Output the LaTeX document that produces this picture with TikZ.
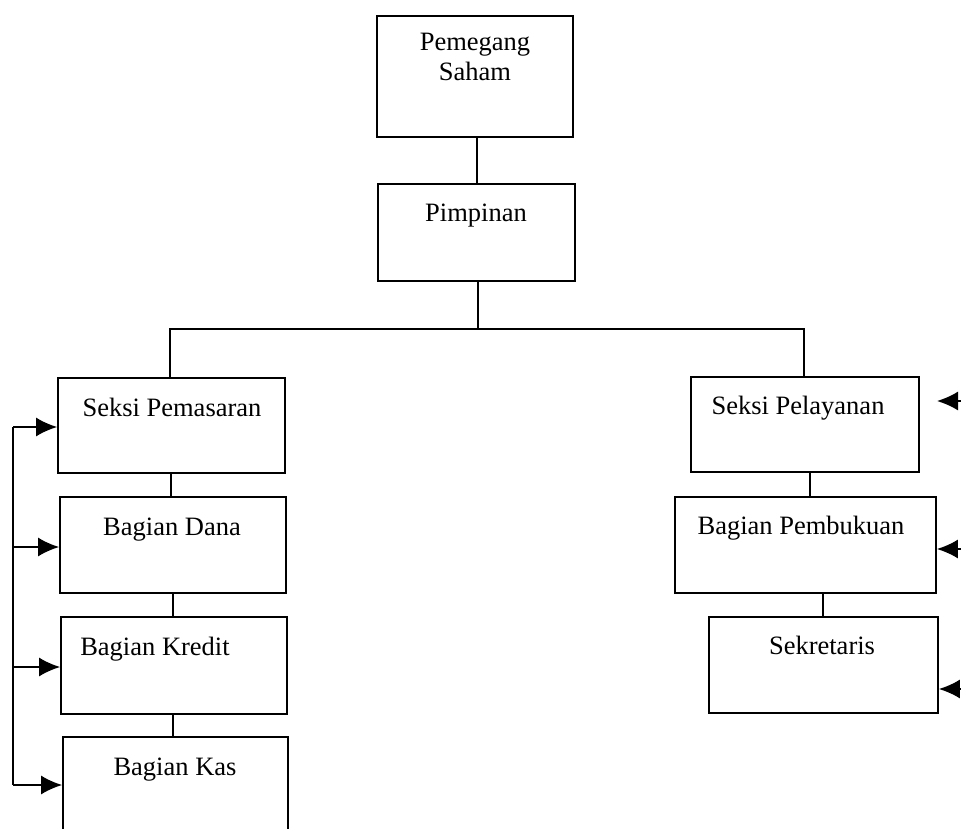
\documentclass[tikz,border=0pt]{standalone}
\usepackage{fontspec}
\setmainfont{Liberation Serif}
\usetikzlibrary{arrows.meta}
\begin{document}
\begin{tikzpicture}[x=1pt,y=-1pt,
  orgbox/.style={draw=black, line width=1.8pt, rectangle, inner sep=0pt},
  lbl/.style={font=\fontsize{26.5}{30}\selectfont, inner sep=0pt, anchor=base},
  link/.style={draw=black, line width=1.7pt},
  feed/.style={draw=black, line width=1.7pt, -{Latex[length=21pt,width=19pt]}}]
\clip (0,0) rectangle (961,829);

% boxes
\node[orgbox, minimum width=196pt, minimum height=121pt] (ps)  at (475,76.5)  {};
\node[orgbox, minimum width=197pt, minimum height=97pt]  (pim) at (476.5,232.5) {};
\node[orgbox, minimum width=227pt, minimum height=95pt]  (sm)  at (171.5,425.5) {};
\node[orgbox, minimum width=226pt, minimum height=96pt]  (bd)  at (173,545)   {};
\node[orgbox, minimum width=226pt, minimum height=97pt]  (bk)  at (174,665.5) {};
\node[orgbox, minimum width=225pt, minimum height=113pt] (kas) at (175.5,793.5) {};
\node[orgbox, minimum width=228pt, minimum height=95pt]  (sp)  at (805,424.5)  {};
\node[orgbox, minimum width=261pt, minimum height=96pt]  (pb)  at (805.5,545)  {};
\node[orgbox, minimum width=229pt, minimum height=96pt]  (sek) at (823.5,665)  {};

% labels
\node[lbl, anchor=north, align=center] (tps) at (475,33) {Pemegang\\Saham};
\node[lbl] (tpim) at (476,222) {Pimpinan};
\node[lbl] (tsm)  at (172,416) {Seksi Pemasaran};
\node[lbl] (tbd)  at (172,535) {Bagian Dana};
\node[lbl] (tbk)  at (155,655) {Bagian Kredit};
\node[lbl] (tkas) at (175,775) {Bagian Kas};
\node[lbl] (tsp)  at (798,414) {Seksi Pelayanan};
\node[lbl] (tpb)  at (801,534) {Bagian Pembukuan};
\node[lbl] (tsek) at (822,654) {Sekretaris};

% hierarchy lines
\coordinate (bus) at (478,329);
\draw[link] (ps.south -| 477,0) -- (pim.north -| 477,0);
\draw[link] (pim.south -| bus) -- (bus);
\draw[link] (sm.north -| 170,0) |- (bus) -| (sp.north -| 804,0);
\draw[link] (sm.south -| 171,0) -- (bd.north -| 171,0);
\draw[link] (bd.south -| 173,0) -- (bk.north -| 173,0);
\draw[link] (bk.south -| 173,0) -- (kas.north -| 173,0);
\draw[link] (sp.south -| 810,0) -- (pb.north -| 810,0);
\draw[link] (pb.south -| 823,0) -- (sek.north -| 823,0);

% left feedback rail
\coordinate (rtop) at (13,427);
\coordinate (rbot) at (13,785);
\draw[link] (rtop) -- (rbot);
\draw[feed] (rtop) -- (sm.west |- rtop);
\draw[feed] (13,547) -- (bd.west |- 0,547);
\draw[feed] (13,667) -- (bk.west |- 0,667);
\draw[feed] (rbot) -- (kas.west |- rbot);

% right incoming arrows
\coordinate (ra) at (961,401);
\coordinate (rb) at (961,549);
\coordinate (rc) at (961,689);
\coordinate (spin) at (937,401);
\draw[feed] (ra) -- (spin);
\draw[feed] (rb) -- (pb.east |- rb);
\draw[feed] (rc) -- (sek.east |- rc);
\end{tikzpicture}
\end{document}
